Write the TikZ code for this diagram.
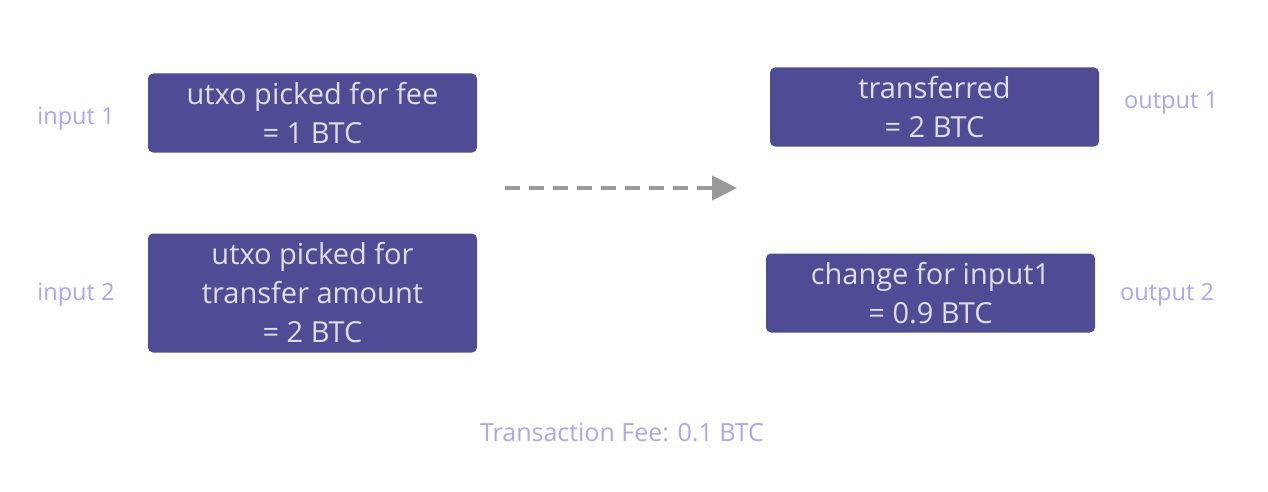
\documentclass[tikz,border=0pt]{standalone}
\usepackage{fontspec}
\setmainfont{Open Sans}
\usepackage{xcolor}
\usetikzlibrary{arrows.meta}
\usetikzlibrary{positioning}

\definecolor{boxfill}{HTML}{4F4C95}
\definecolor{boxtext}{HTML}{DEDEDE}
\definecolor{tagtext}{HTML}{A8A6F7}
\definecolor{arrowgray}{HTML}{999999}

\begin{document}
\begin{tikzpicture}[x=0.5pt,y=-0.5pt]
						\tikzstyle{utxo}=[fill=boxfill, text=boxtext, rounded corners=2.5pt, align=center, minimum width=164.5pt, minimum height=39.5pt, font=\fontsize{14.5}{19.5}\selectfont]
						\tikzstyle{tag}=[text=tagtext, font=\fontsize{11.8}{14}\selectfont]
						\useasboundingbox (0,0) rectangle (1268,492);
						\node[utxo] 		(in1) at (312.5,113)		{utxo picked for fee\\= 1 BTC};
						\node[utxo, minimum height=59.5pt] 	(in2) at (312.5,293)	{utxo picked for\\transfer amount\\= 2 BTC};
						\node[utxo] 		(out1) at (934.5,107)		{transferred\\= 2 BTC};
						\node[utxo] 		(out2) at (930.5,293)		{change for input1\\= 0.9 BTC};
						\node[tag] 		(tin1) at (76,119)		{input 1};
						\node[tag] 		(tin2) at (76,295)		{input 2};
						\node[tag] 		(tout1) at (1171,103)		{output 1};
						\node[tag] 		(tout2) at (1167,295)		{output 2};
						\node[tag, font=\fontsize{12.5}{14}\selectfont] 		(fee) at (622,432)		{Transaction Fee: 0.1 BTC};
						\coordinate (from) at (505,188);
						\coordinate (to) at (737,188);
				  \draw[arrowgray, line width=2pt, dash pattern=on 7.5pt off 4.5pt, -{Triangle[length=12.5pt,width=12pt]}] (from) -- (to);
				\end{tikzpicture}
\end{document}
